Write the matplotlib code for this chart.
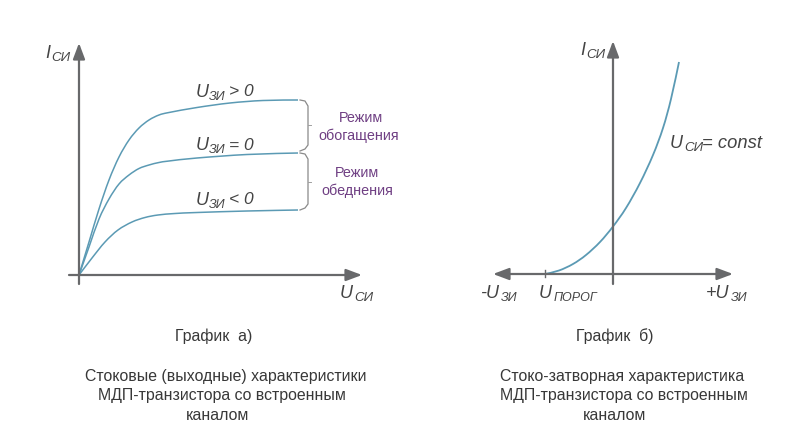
import numpy as np
import matplotlib
matplotlib.use("Agg")
import matplotlib.pyplot as plt
from matplotlib.path import Path
from matplotlib.patches import PathPatch

plt.rcParams['font.family'] = ['Liberation Sans', 'DejaVu Sans']

W, H = 800, 444
GRAY = '#68696b'
BLUE = '#5b9ab4'
PURPLE = '#6f3f83'
TXT = '#444444'

# Left panel: output curves (Uси, Iси), arbitrary units measured from the origin
uds_high = [0, 10, 20, 30, 40, 50, 60, 70, 80, 90, 118, 151, 184, 219]
ids_high = [0, 33, 66, 95, 118, 135, 147, 155, 160, 162.5, 167.5, 172, 174.5, 175]
uds_zero = [0, 10, 20, 30, 40, 50, 60, 70, 80, 90, 118, 168, 219]
ids_zero = [0, 28, 56, 76, 91, 100, 106.5, 110, 112.5, 114, 117, 120.5, 122]
uds_low = [0, 13, 26, 39, 53, 66, 79, 96, 118, 168, 219]
ids_low = [0, 17, 33, 45, 53, 57.5, 60, 61.5, 62.5, 64, 65]
# Right panel: transfer curve (Uзи, Iси)
ugs = [-68, -54, -40, -27, -13, 0, 13, 27, 40, 50, 58, 66]
ids_t = [0, 3.5, 10, 19, 32, 47.5, 66, 91, 119, 146, 175, 212]

caption_a = ['График  а)', 'Стоковые (выходные) характеристики',
             'МДП-транзистора со встроенным', 'каналом']
caption_b = ['График  б)', 'Стоко-затворная характеристика',
             'МДП-транзистора со встроенным', 'каналом']

fig = plt.figure(figsize=(W / 100, H / 100), dpi=100, facecolor='white')


def panel(x0, y0):
    ax = fig.add_axes([0, 0, 1, 1])
    ax.set_xlim(-x0, W - x0)
    ax.set_ylim(-(H - y0), y0)
    ax.axis('off')
    ax.patch.set_alpha(0)
    return ax


def arrow(ax, a, b):
    ax.annotate('', xy=b, xytext=a,
                arrowprops=dict(arrowstyle='-|>,head_length=0.8,head_width=0.3',
                                color=GRAY, lw=1.6, shrinkA=0, shrinkB=0, mutation_scale=12))


def smooth(x, y):
    # Catmull-Rom through the read points, rendered as a Bezier path
    v = [Path.MOVETO]
    p = [(x[0], y[0])]
    n = len(x)
    for i in range(n - 1):
        a = i - 1 if i > 0 else 0
        d = i + 2 if i + 2 < n else n - 1
        c1 = (x[i] + (x[i + 1] - x[a]) / 6, y[i] + (y[i + 1] - y[a]) / 6)
        c2 = (x[i + 1] - (x[d] - x[i]) / 6, y[i + 1] - (y[d] - y[i]) / 6)
        p += [c1, c2, (x[i + 1], y[i + 1])]
        v += [Path.CURVE4] * 3
    return Path(p, v)


def txt(px, py, s, size=13, color=TXT, style='normal', ha='left', va='baseline'):
    fig.text(px / W, 1 - py / H, s, fontsize=size, color=color, style=style, ha=ha, va=va)


def sym(px, py, main, sub, tail='', dx=13, tail_dx=33, tail_size=12.5, sub_size=9):
    txt(px, py, main, size=13, style='italic')
    txt(px + dx, py + 3, sub, size=sub_size, style='italic')
    if tail:
        txt(px + tail_dx, py, tail, size=tail_size, style='italic')


# --- left panel
axl = panel(79, 275)
arrow(axl, (-10, 0), (283, 0))
arrow(axl, (0, -9), (0, 232))
for xs, ys in [(uds_high, ids_high), (uds_zero, ids_zero), (uds_low, ids_low)]:
    axl.add_patch(PathPatch(smooth(xs, ys), fc='none', ec=BLUE, lw=1.1))


def brace(ax, x, ytop, ybot):
    mid = (ytop + ybot) / 2
    ax.plot([x, x + 5, x + 8, x + 8, x + 5, x], [ytop, ytop - 1, ytop - 6, ybot + 6, ybot + 2, ybot],
            color='#8a8a8a', lw=0.9)
    ax.plot([x + 8, x + 11], [mid, mid], color='#a0a0a0', lw=0.7)


brace(axl, 221, 175, 124)
brace(axl, 221, 122, 65)

sym(196, 97, 'U', 'ЗИ')
txt(229, 96, '> 0', size=12.5, style='italic')
sym(196, 150, 'U', 'ЗИ')
txt(229, 150, '= 0', size=12.5, style='italic')
sym(196, 205, 'U', 'ЗИ')
txt(229, 204, '< 0', size=12.5, style='italic')
sym(45, 58, 'I', 'СИ', dx=6, sub_size=9.5)
sym(340, 298, 'U', 'СИ', dx=14, sub_size=9.5)

txt(361, 122, 'Режим', size=10.4, color=PURPLE, ha='center')
txt(359, 140, 'обогащения', size=10.4, color=PURPLE, ha='center')
txt(357, 177, 'Режим', size=10.4, color=PURPLE, ha='center')
txt(357, 195, 'обеднения', size=10.4, color=PURPLE, ha='center')

# --- right panel
axr = panel(613, 274)
arrow(axr, (0, 0), (-120, 0))
arrow(axr, (0, 0), (120, 0))
arrow(axr, (0, -10), (0, 233))
axr.plot([-68, -68], [-3, 4], color=GRAY, lw=1)
axr.add_patch(PathPatch(smooth(ugs, ids_t), fc='none', ec=BLUE, lw=1.3))

sym(580, 55, 'I', 'СИ', dx=6, sub_size=9.5)
sym(670, 148, 'U', 'СИ', '= const', dx=14, tail_dx=32, tail_size=13.2, sub_size=9.5)
sym(480, 298, '-U', 'ЗИ', dx=21)
sym(539, 298, 'U', 'ПОРОГ', dx=14.5, sub_size=9)
sym(706, 298, '+U', 'ЗИ', dx=25)

# --- captions
for centers, lines in [((213.5, 226, 222, 218), caption_a), ((615, 622, 624, 615), caption_b)]:
    for cx, y, line in zip(centers, [341, 381, 400, 420], lines):
        txt(cx, y, line, size=11.4, color='#383838', ha='center')

fig.savefig('out.png', dpi=100)
